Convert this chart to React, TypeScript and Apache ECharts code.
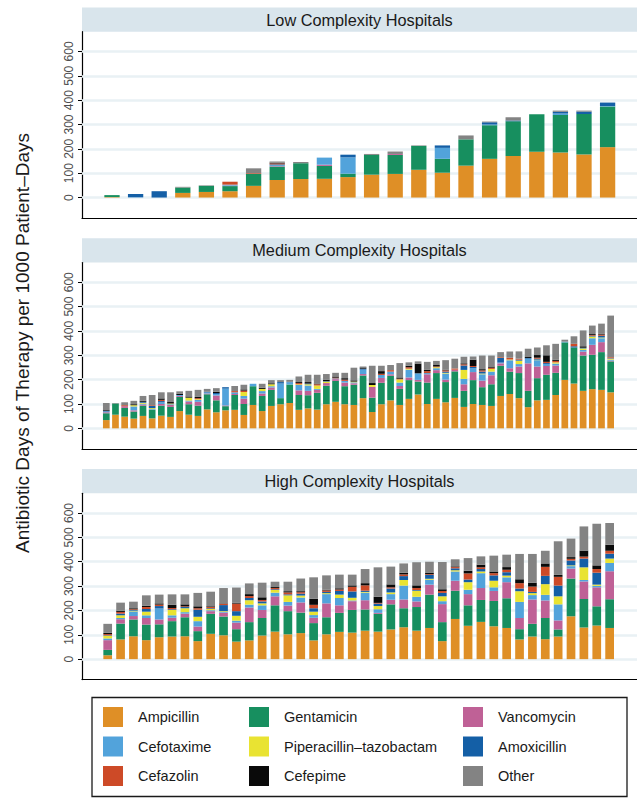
import React, { useEffect, useRef } from "react";
import * as echarts from "echarts";

const DRUGS = ["Ampicillin", "Gentamicin", "Vancomycin", "Cefotaxime", "Piperacillin–tazobactam", "Amoxicillin", "Cefazolin", "Cefepime", "Other"];
const COLORS = ["#df8f26", "#178f5f", "#bf6196", "#52a3db", "#e9e332", "#145fa6", "#cd4a27", "#0a0a0a", "#838383"];
const PANEL_TITLES = ["Low Complexity Hospitals", "Medium Complexity Hospitals", "High Complexity Hospitals"];
const Y_TICKS = [0, 100, 200, 300, 400, 500, 600];
const Y_TITLE = "Antibiotic Days of Therapy per 1000 Patient–Days";

// Low complexity hospitals (22)
const LOW_AMPICILLIN = [2, 0, 0, 19, 23, 26, 48, 72, 76, 77, 84, 94, 97, 114, 102, 131, 159, 171, 188, 185, 177, 207];
const LOW_GENTAMICIN = [8, 0, 0, 22, 25, 21, 49, 55, 65, 53, 14, 81, 78, 98, 57, 108, 138, 142, 154, 154, 166, 167];
const LOW_VANCOMYCIN = [0, 0, 0, 0, 0, 2, 0, 2, 0, 5, 0, 0, 4, 0, 0, 0, 0, 0, 0, 0, 0, 0];
const LOW_CEFOTAXIME = [0, 1, 0, 0, 0, 4, 0, 4, 0, 29, 67, 0, 0, 0, 45, 0, 3, 0, 0, 6, 0, 2];
const LOW_PIPTAZO = [0, 0, 0, 0, 0, 0, 0, 0, 0, 0, 0, 0, 0, 0, 0, 0, 0, 0, 0, 0, 0, 0];
const LOW_AMOXICILLIN = [0, 14, 26, 0, 0, 0, 0, 3, 0, 0, 11, 0, 0, 0, 10, 0, 9, 3, 0, 7, 10, 14];
const LOW_CEFAZOLIN = [0, 0, 0, 0, 0, 12, 3, 4, 0, 0, 0, 0, 0, 0, 0, 0, 0, 0, 0, 0, 0, 0];
const LOW_CEFEPIME = [0, 0, 0, 0, 0, 0, 0, 3, 0, 0, 0, 0, 0, 0, 0, 0, 0, 0, 0, 0, 0, 0];
const LOW_OTHER = [0, 0, 0, 3, 2, 0, 20, 5, 5, 0, 0, 4, 10, 2, 0, 16, 3, 14, 0, 5, 4, 0];

// Medium complexity hospitals (56)
const MED_AMPICILLIN = [34, 56, 48, 40, 51, 41, 52, 47, 71, 56, 51, 78, 66, 74, 76, 55, 96, 71, 92, 99, 104, 76, 82, 77, 99, 109, 99, 96, 124, 67, 99, 115, 96, 121, 139, 100, 121, 107, 125, 88, 100, 96, 92, 133, 141, 124, 87, 115, 117, 137, 199, 184, 154, 161, 158, 148];
const MED_GENTAMICIN = [28, 46, 36, 29, 42, 35, 41, 41, 58, 43, 42, 62, 49, 17, 61, 45, 77, 62, 66, 25, 76, 61, 54, 69, 76, 86, 74, 83, 93, 59, 88, 101, 66, 77, 53, 88, 106, 83, 109, 66, 98, 73, 89, 124, 91, 103, 67, 91, 103, 91, 154, 148, 145, 141, 155, 127];
const MED_VANCOMYCIN = [4, 0, 7, 5, 5, 0, 7, 8, 4, 11, 16, 3, 20, 3, 4, 22, 0, 10, 10, 0, 0, 19, 18, 12, 11, 7, 15, 6, 6, 44, 20, 6, 12, 11, 7, 34, 12, 10, 7, 27, 33, 27, 37, 10, 15, 27, 113, 48, 36, 30, 0, 0, 16, 41, 41, 3];
const MED_CEFOTAXIME = [3, 0, 0, 16, 3, 3, 7, 3, 4, 4, 8, 4, 6, 69, 7, 11, 10, 10, 5, 60, 9, 22, 22, 4, 0, 3, 7, 4, 18, 0, 12, 11, 14, 32, 27, 5, 8, 25, 0, 22, 16, 26, 15, 3, 33, 10, 19, 26, 8, 8, 3, 0, 7, 27, 16, 4];
const MED_PIPTAZO = [0, 0, 0, 5, 4, 4, 0, 3, 0, 12, 3, 0, 0, 0, 0, 16, 0, 9, 8, 0, 0, 3, 5, 14, 6, 0, 0, 3, 0, 8, 0, 0, 13, 4, 0, 0, 4, 3, 0, 37, 0, 3, 11, 0, 3, 14, 0, 2, 0, 5, 0, 0, 6, 7, 3, 4];
const MED_AMOXICILLIN = [3, 0, 0, 0, 4, 9, 5, 0, 0, 0, 0, 3, 4, 6, 0, 0, 0, 0, 0, 6, 2, 0, 3, 0, 2, 0, 0, 0, 4, 0, 0, 0, 0, 0, 0, 0, 0, 5, 0, 18, 5, 8, 0, 19, 0, 4, 3, 4, 4, 0, 0, 5, 3, 3, 7, 2];
const MED_CEFAZOLIN = [0, 0, 4, 0, 0, 3, 5, 0, 0, 0, 4, 0, 0, 0, 5, 6, 0, 0, 0, 0, 0, 5, 0, 5, 0, 3, 5, 0, 0, 0, 5, 6, 3, 6, 0, 8, 3, 5, 5, 5, 4, 5, 5, 3, 7, 4, 0, 4, 5, 6, 0, 10, 0, 3, 5, 4];
const MED_CEFEPIME = [3, 0, 0, 4, 4, 0, 6, 6, 5, 5, 5, 0, 5, 0, 0, 5, 0, 5, 4, 0, 0, 4, 6, 3, 5, 5, 6, 5, 5, 8, 11, 0, 5, 6, 40, 5, 6, 3, 0, 4, 26, 5, 5, 0, 0, 0, 4, 11, 27, 5, 0, 0, 6, 4, 4, 0];
const MED_OTHER = [29, 2, 12, 14, 20, 42, 25, 40, 10, 23, 29, 12, 15, 0, 21, 19, 0, 16, 13, 8, 8, 23, 30, 36, 24, 15, 22, 52, 4, 71, 22, 21, 59, 14, 9, 33, 17, 39, 40, 27, 13, 56, 45, 21, 26, 30, 34, 31, 41, 65, 8, 31, 65, 35, 41, 171];

// High complexity hospitals (40)
const HIGH_AMPICILLIN = [16, 81, 94, 78, 90, 93, 94, 74, 104, 98, 72, 77, 97, 113, 102, 107, 77, 102, 112, 109, 117, 113, 122, 131, 117, 128, 74, 165, 137, 153, 135, 128, 81, 93, 82, 93, 176, 130, 138, 128];
const HIGH_GENTAMICIN = [22, 65, 69, 64, 53, 63, 78, 41, 82, 77, 51, 75, 72, 108, 95, 84, 71, 70, 78, 93, 87, 73, 103, 78, 97, 137, 78, 116, 84, 90, 104, 122, 42, 52, 87, 29, 155, 117, 79, 118];
const HIGH_VANCOMYCIN = [40, 18, 14, 27, 20, 14, 15, 19, 11, 16, 27, 60, 33, 37, 23, 42, 22, 57, 31, 36, 38, 4, 19, 36, 23, 41, 74, 41, 46, 49, 41, 66, 46, 100, 72, 37, 41, 72, 78, 115];
const HIGH_CEFOTAXIME = [7, 5, 19, 11, 45, 10, 6, 22, 4, 3, 8, 12, 19, 15, 15, 20, 11, 38, 30, 3, 31, 15, 23, 57, 19, 20, 12, 38, 18, 61, 15, 20, 66, 18, 23, 66, 10, 6, 6, 34];
const HIGH_PIPTAZO = [11, 11, 3, 15, 0, 22, 16, 18, 5, 3, 20, 18, 8, 11, 27, 8, 14, 4, 14, 11, 3, 13, 7, 23, 25, 4, 20, 5, 31, 7, 27, 7, 44, 8, 44, 33, 3, 52, 5, 18];
const HIGH_AMOXICILLIN = [2, 7, 3, 11, 10, 3, 5, 29, 3, 25, 19, 9, 8, 3, 4, 8, 14, 5, 15, 26, 5, 10, 16, 16, 3, 16, 14, 8, 11, 10, 22, 14, 11, 5, 34, 44, 20, 36, 49, 20];
const HIGH_CEFAZOLIN = [5, 7, 3, 8, 6, 5, 3, 6, 5, 5, 31, 8, 6, 5, 8, 6, 14, 6, 6, 19, 22, 3, 5, 7, 8, 3, 8, 5, 25, 7, 9, 10, 22, 22, 37, 36, 7, 8, 15, 12];
const HIGH_CEFEPIME = [5, 5, 4, 5, 5, 13, 8, 8, 3, 2, 3, 8, 11, 4, 5, 4, 25, 3, 5, 6, 9, 25, 12, 7, 11, 5, 7, 3, 11, 11, 7, 11, 16, 16, 14, 8, 7, 25, 15, 25];
const HIGH_OTHER = [37, 33, 27, 43, 36, 43, 41, 55, 60, 63, 63, 44, 60, 22, 39, 52, 88, 59, 56, 44, 58, 121, 73, 38, 95, 46, 112, 29, 52, 34, 65, 51, 104, 118, 52, 138, 76, 99, 171, 89];

const PANELS = [
  [LOW_AMPICILLIN, LOW_GENTAMICIN, LOW_VANCOMYCIN, LOW_CEFOTAXIME, LOW_PIPTAZO, LOW_AMOXICILLIN, LOW_CEFAZOLIN, LOW_CEFEPIME, LOW_OTHER],
  [MED_AMPICILLIN, MED_GENTAMICIN, MED_VANCOMYCIN, MED_CEFOTAXIME, MED_PIPTAZO, MED_AMOXICILLIN, MED_CEFAZOLIN, MED_CEFEPIME, MED_OTHER],
  [HIGH_AMPICILLIN, HIGH_GENTAMICIN, HIGH_VANCOMYCIN, HIGH_CEFOTAXIME, HIGH_PIPTAZO, HIGH_AMOXICILLIN, HIGH_CEFAZOLIN, HIGH_CEFEPIME, HIGH_OTHER],
];

// layout
const FONT = "'Liberation Sans', Arial, Helvetica, sans-serif";
const PLOT_LEFT = 82;
const PLOT_WIDTH = 555;
const PLOT_TOPS = [31.7, 262.5, 493.3];
const PLOT_HEIGHT = 186.3;
const STRIP_HEIGHT = 24.2;
const X_RANGES = [[-1.271, 22.246], [-2.65, 57.873], [-1.997, 41.127]];
const BAR_WIDTHS = [15.3, 6.7, 8.7];
const Y_MIN = -84;
const Y_MAX = 681;

export default function App() {
  const ref = useRef<HTMLDivElement>(null);
  useEffect(() => {
    if (!ref.current) return;
    const chart = echarts.init(ref.current, null, { renderer: "svg" });

    const grid = PLOT_TOPS.map((top) => ({ left: PLOT_LEFT, top, width: PLOT_WIDTH, height: PLOT_HEIGHT }));
    const xAxis = X_RANGES.map((r, g) => ({
      type: "value",
      gridIndex: g,
      min: r[0],
      max: r[1],
      axisLine: { show: true, onZero: false, lineStyle: { color: "#000", width: 1.2 } },
      axisTick: { show: false },
      axisLabel: { show: false },
      splitLine: { show: false },
    }));
    const yAxis = PLOT_TOPS.map((_, g) => ({
      type: "value",
      gridIndex: g,
      min: Y_MIN,
      max: Y_MAX,
      axisLine: { show: true, onZero: false, lineStyle: { color: "#000", width: 1.2 } },
      axisTick: { show: true, length: 4, customValues: Y_TICKS, lineStyle: { color: "#000", width: 1 } },
      axisLabel: {
        show: true,
        customValues: Y_TICKS,
        rotate: 90,
        margin: 7,
        fontSize: 12,
        color: "#4d4d4d",
        fontFamily: FONT,
      },
      splitLine: { show: false },
    }));

    const series: any[] = [];
    PANELS.forEach((panel, g) => {
      panel.forEach((values, d) => {
        const s: any = {
          type: "bar",
          name: DRUGS[d],
          xAxisIndex: g,
          yAxisIndex: g,
          stack: "panel" + g,
          barWidth: BAR_WIDTHS[g],
          itemStyle: { color: COLORS[d] },
          // value first, so that the value dimension is the stacked one
          dimensions: ["value", "hospital"],
          encode: { x: 1, y: 0 },
          data: values.map((v, i) => [v, i]),
          z: 2,
        };
        if (d === 0) {
          s.markLine = {
            silent: true,
            symbol: "none",
            z: 1,
            label: { show: false },
            lineStyle: { color: "#e9f1f4", width: 2.5, type: "solid" },
            data: Y_TICKS.map((v) => ({ yAxis: v })),
          };
        }
        series.push(s);
      });
    });

    const legendLefts = [103, 249, 463];
    const legend = legendLefts.map((left, c) => ({
      data: DRUGS.filter((_, k) => k % 3 === c),
      orient: "vertical",
      left,
      top: 707,
      padding: 0,
      itemWidth: 20,
      itemHeight: 20,
      itemGap: 9.5,
      icon: "rect",
      selectedMode: false,
      textStyle: { fontSize: 14.5, color: "#1a1a1a", fontFamily: FONT, padding: [0, 0, 0, 10] },
    }));

    const graphic: any[] = [];
    PLOT_TOPS.forEach((top, g) => {
      graphic.push({
        type: "rect",
        shape: { x: PLOT_LEFT, y: top - STRIP_HEIGHT, width: PLOT_WIDTH, height: STRIP_HEIGHT },
        style: { fill: "#d9e5ec" },
        silent: true,
      });
      graphic.push({
        type: "text",
        x: PLOT_LEFT + PLOT_WIDTH / 2,
        y: top - STRIP_HEIGHT / 2,
        style: { text: PANEL_TITLES[g], fontSize: 16.3, fontFamily: FONT, fill: "#1a1a1a", align: "center", verticalAlign: "middle" },
        silent: true,
      });
    });
    graphic.push({
      type: "text",
      x: 22,
      y: 343,
      rotation: Math.PI / 2,
      style: { text: Y_TITLE, fontSize: 19, fontFamily: FONT, fill: "#1a1a1a", align: "center", verticalAlign: "middle" },
      silent: true,
    });
    graphic.push({
      type: "rect",
      shape: { x: 92, y: 697.5, width: 535, height: 99 },
      style: { fill: "none", stroke: "#1a1a1a", lineWidth: 1.3 },
      silent: true,
    });

    chart.setOption({
      animation: false,
      backgroundColor: "#ffffff",
      grid,
      xAxis,
      yAxis,
      series,
      legend,
      graphic,
    });
    return () => chart.dispose();
  }, []);
  return <div ref={ref} style={{ position: "absolute", left: 0, top: 0, width: 637, height: 798 }} />;
}
